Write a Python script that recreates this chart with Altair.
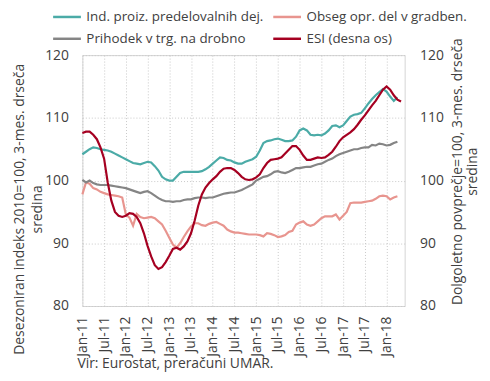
import altair as alt
import pandas as pd

# legend is filled column by column: column 1 = first two names, column 2 = last two
series_names = ["Ind. proiz. predelovalnih dej.", "Prihodek v trg. na drobno",
                "Obseg opr. del v gradben.", "ESI (desna os)"]
series_colors = ["#4BABA7", "#858585", "#E8958F", "#A50021"]

tick_labels = ["Jan-11", "Jul-11", "Jan-12", "Jul-12", "Jan-13", "Jul-13", "Jan-14", "Jul-14",
               "Jan-15", "Jul-15", "Jan-16", "Jul-16", "Jan-17", "Jul-17", "Jan-18"]

industry = [104.2, 104.6, 105.0, 105.3, 105.2, 105.0, 104.9, 104.8, 104.6, 104.3,
            104.0, 103.7, 103.4, 103.1, 102.8, 102.7, 102.6, 102.8, 103.0, 102.9,
            102.3, 101.6, 100.6, 100.2, 100.0, 100.0, 100.6, 101.2, 101.4, 101.4,
            101.4, 101.4, 101.4, 101.5, 101.8, 102.2, 102.7, 103.2, 103.7, 103.6,
            103.3, 103.2, 102.9, 102.7, 102.7, 103.0, 103.2, 103.4, 103.8, 104.8,
            106.0, 106.3, 106.4, 106.6, 106.7, 106.5, 106.3, 106.3, 106.4, 107.0,
            108.0, 108.3, 108.0, 107.3, 107.2, 107.3, 107.2, 107.5, 108.0, 108.7,
            108.8, 108.5, 108.8, 109.5, 110.2, 110.5, 110.6, 110.8, 111.5, 112.3,
            113.0, 113.6, 114.1, 114.6, 114.2, 113.4, 112.7, 113.3]

construction = [97.8, 99.7, 99.5, 98.8, 98.6, 98.2, 98.0, 97.8, 97.7, 97.6,
                97.5, 97.3, 94.6, 94.1, 92.8, 94.7, 94.2, 94.0, 94.1, 94.2,
                94.0, 93.5, 93.0, 92.0, 90.9, 89.8, 89.3, 90.0, 91.0, 91.9,
                92.7, 93.2, 93.2, 92.9, 92.8, 93.1, 93.3, 93.4, 93.1, 92.8,
                92.2, 91.9, 91.7, 91.7, 91.6, 91.5, 91.4, 91.4, 91.4, 91.3,
                91.1, 91.6, 91.5, 91.3, 91.0, 91.1, 91.3, 91.8, 92.0, 93.0,
                93.3, 93.5, 93.0, 92.8, 93.0, 93.5, 94.0, 94.3, 94.3, 94.3,
                94.6, 93.8, 94.4, 95.0, 96.4, 96.5, 96.5, 96.5, 96.6, 96.7,
                96.8, 97.1, 97.5, 97.6, 97.5, 97.0, 97.3, 97.5]

retail = [100.1, 99.7, 100.0, 99.6, 99.4, 99.3, 99.3, 99.3, 99.2, 99.1,
          99.0, 98.9, 98.8, 98.6, 98.4, 98.2, 98.0, 98.2, 98.3, 98.0,
          97.6, 97.2, 96.9, 96.7, 96.7, 96.6, 96.7, 96.7, 96.9, 97.0,
          97.0, 97.2, 97.3, 97.3, 97.2, 97.3, 97.3, 97.5, 97.7, 97.9,
          98.0, 98.1, 98.1, 98.3, 98.5, 98.8, 99.1, 99.4, 100.0, 100.3,
          100.6, 100.7, 101.0, 101.4, 101.5, 101.3, 101.2, 101.4, 101.7, 102.0,
          102.0, 102.1, 102.2, 102.2, 102.4, 102.6, 102.7, 103.0, 103.3, 103.5,
          103.9, 104.2, 104.4, 104.6, 104.8, 105.0, 105.0, 105.2, 105.3, 105.3,
          105.7, 105.6, 105.9, 105.8, 105.6, 105.7, 106.0, 106.2]

esi = [107.6, 107.8, 107.8, 107.3, 106.6, 105.3, 103.5, 99.7, 96.8, 95.0,
       94.4, 94.2, 94.4, 94.8, 94.7, 94.2, 93.2, 91.6, 89.6, 87.9,
       86.5, 85.9, 86.2, 87.0, 88.0, 89.1, 89.3, 89.0, 89.5, 90.3,
       91.6, 93.6, 96.0, 97.8, 98.9, 99.6, 100.2, 100.7, 101.4, 101.9,
       102.0, 102.0, 101.7, 101.2, 100.6, 100.2, 100.1, 100.2, 100.5, 101.0,
       102.0, 102.8, 103.3, 103.4, 103.5, 103.7, 104.3, 104.9, 105.5, 105.5,
       104.9, 104.0, 103.3, 103.3, 103.5, 103.7, 103.6, 103.7, 104.1, 104.6,
       105.4, 106.3, 106.9, 107.3, 107.7, 108.2, 108.9, 109.7, 110.4, 111.2,
       112.0, 112.7, 113.6, 114.5, 115.0, 114.5, 113.6, 112.9, 112.6]

FONT = "Open Sans"
TXT = "#404040"

rows = []
for name, vals in [(series_names[0], industry), (series_names[2], construction),
                   (series_names[1], retail)]:
    for i, v in enumerate(vals):
        rows.append({"m": i, "v": v, "series": name})
df_left = pd.DataFrame(rows)
df_esi = pd.DataFrame({"m": list(range(len(esi))), "v": esi, "series": series_names[3]})

label_expr = "[" + ",".join("'" + t + "'" for t in tick_labels) + "][round(datum.value/6)]"

x_enc = alt.X("m:Q", scale=alt.Scale(domain=[0, 89], nice=False, zero=False),
              axis=alt.Axis(values=[6 * i for i in range(len(tick_labels))], labelExpr=label_expr,
                            title=None, labelAngle=270, labelPadding=10, grid=True))

color_enc = alt.Color("series:N",
                      scale=alt.Scale(domain=series_names, range=series_colors),
                      legend=alt.Legend(title=None, orient="none", legendX=-31, legendY=-54,
                                        columns=2, symbolType="stroke", symbolSize=784,
                                        symbolStrokeWidth=2.5, labelFontSize=13.5, labelFont=FONT,
                                        labelColor=TXT, columnPadding=4, rowPadding=-7.5,
                                        labelOffset=4, labelLimit=400, padding=0))

y_vals = [80, 90, 100, 110, 120]

left = alt.Chart(df_left).mark_line(strokeWidth=2.2).encode(
    x=x_enc,
    y=alt.Y("v:Q", scale=alt.Scale(domain=[80, 120], nice=False, zero=False),
            axis=alt.Axis(values=y_vals, labelPadding=14, grid=True,
                          title=["Desezoniran indeks 2010=100, 3-mes. drseča", "sredina"],
                          titleAngle=270, titleBaseline="top", titleAlign="center",
                          titleX=-70, titleY=155, titleLineHeight=18)),
    color=color_enc,
)

right = alt.Chart(df_esi).mark_line(strokeWidth=2.2).encode(
    x=x_enc,
    y=alt.Y("v:Q", scale=alt.Scale(domain=[80, 120], nice=False, zero=False),
            axis=alt.Axis(values=y_vals, orient="right", labelPadding=15, grid=False,
                          title=["Dolgoletno povprečje=100, 3-mes. drseča", "sredina"],
                          titleAngle=270, titleBaseline="top", titleAlign="center",
                          titleX=46, titleY=117, titleLineHeight=15)),
    color=color_enc,
)

chart = alt.layer(left, right).resolve_scale(y="independent").properties(
    width=325, height=253,
    padding={"left": 75, "top": 46, "right": 78, "bottom": 66},
    autosize=alt.AutoSizeParams(type="none"),
    title=alt.TitleParams("Vir: Eurostat, preračuni UMAR.", orient="bottom", anchor="start",
                          frame="group", fontSize=14, font=FONT, fontWeight="normal",
                          color=TXT, baseline="alphabetic", offset=12, dx=-5),
).configure_view(stroke="#d4d4d4").configure_axis(
    labelFont=FONT, labelFontSize=14, labelColor=TXT,
    titleFont=FONT, titleFontSize=14, titleFontWeight="normal", titleColor=TXT,
    gridColor="#c8c8c8", gridDash=[1, 2], gridWidth=1,
    domain=False, ticks=False,
)

chart.save("out.html", embed_options={"renderer": "svg", "actions": False})
